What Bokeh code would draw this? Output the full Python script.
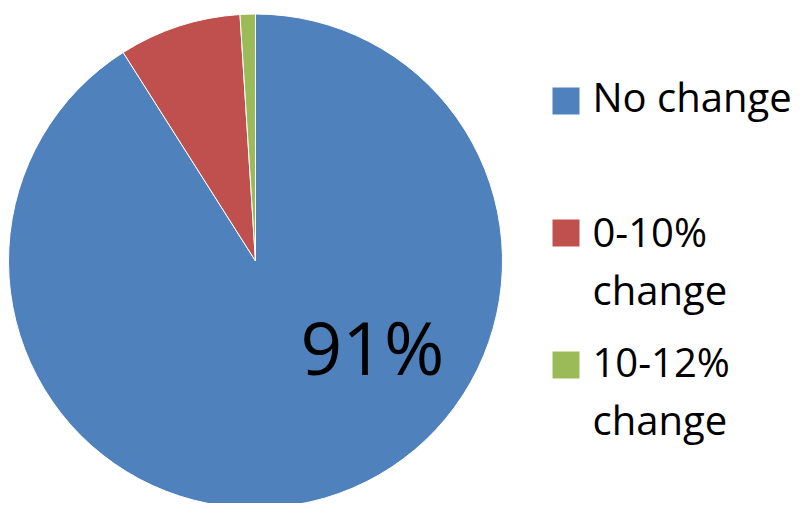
import math
from bokeh.plotting import figure
from bokeh.models import Range1d, ColumnDataSource
from bokeh.core.properties import value
from bokeh.embed import file_html
from bokeh.resources import INLINE

# ---- data ----
categories = ["No change", "0-10% change", "10-12% change"]
legend_texts = ["No change", "0-10%\nchange", "10-12%\nchange"]
values = [91, 8, 1]
colors = ["#4F81BD", "#C0504D", "#9BBB59"]

# ---- layout ----
W, H = 793, 503
cx, cy, R = 255, 242.5, 247

total = sum(values)
starts, ends = [], []
acc = 0.0
for v in values:
    a0 = math.pi / 2 - 2 * math.pi * acc / total
    acc += v
    a1 = math.pi / 2 - 2 * math.pi * acc / total
    starts.append(a0)
    ends.append(a1)

src = ColumnDataSource(dict(cat=categories, val=values, color=colors,
                            start=starts, end=ends))

p = figure(width=W, height=H, output_backend="svg", toolbar_location=None,
           x_range=Range1d(0, W), y_range=Range1d(0, H), min_border=0)
p.axis.visible = False
p.grid.visible = False
p.outline_line_color = None
p.background_fill_color = "white"

p.wedge(x=cx, y=cy, radius=R, start_angle="start", end_angle="end",
        direction="clock", fill_color="color", line_color="white",
        line_width=1, source=src)

# data label
p.text(x=[300], y=[157], text=[f"{values[0]}%"], text_font=value("Open Sans"),
       text_font_size="73px", text_color="black", text_baseline="alphabetic",
       text_align="left")

# legend
sq_x = 565.5
sq_y = [402.5, 270.5, 138.5]
txt_y = [407, 243, 113]
p.rect(x=[sq_x] * 3, y=sq_y, width=27, height=27, fill_color=colors,
       line_color=None)
p.text(x=[592] * 3, y=txt_y, text=legend_texts, text_font=value("Open Sans"),
       text_font_size="40px", text_color="black", text_baseline="alphabetic",
       text_align="left", text_line_height=1.07)

open("out.html", "w").write(file_html(p, INLINE))
